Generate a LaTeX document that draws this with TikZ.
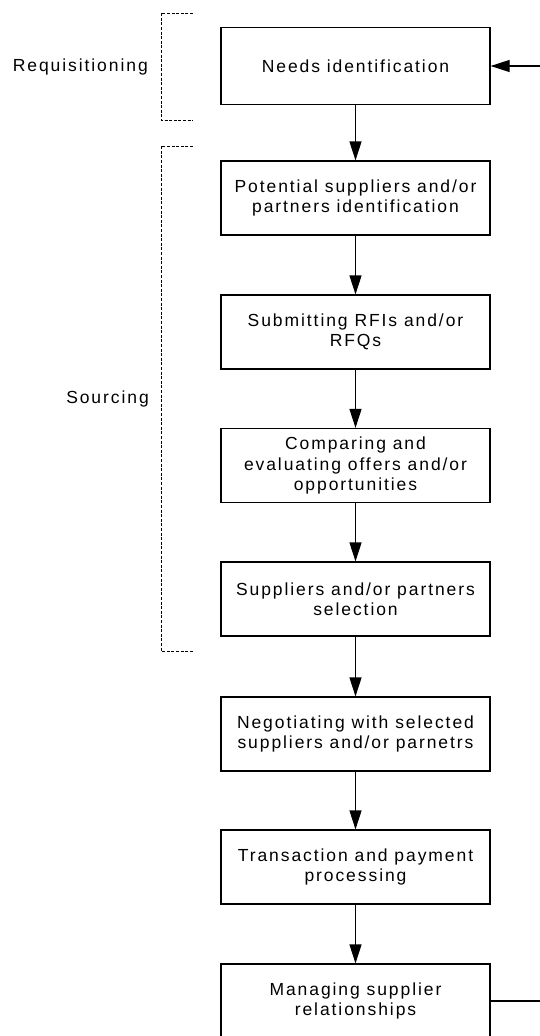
\documentclass[tikz,border=0pt]{standalone}
\usepackage{fontspec}
\setmainfont{Liberation Sans}[LetterSpace=11]
\usetikzlibrary{arrows.meta}
\begin{document}
\begin{tikzpicture}[x=1pt,y=-1pt,
 box/.style={draw, line width=1.2pt, minimum width=269pt, minimum height=74pt, align=center, inner sep=0pt, font=\fontsize{17.5}{20.5}\selectfont},
 lab/.style={font=\fontsize{17.5}{20.5}\selectfont, anchor=east, inner sep=0pt},
 arr/.style={line width=1.2pt, -{Triangle[length=19pt,width=12pt]}},
 brk/.style={line width=0.9pt, dash pattern=on 3pt off 1.6pt}]
\useasboundingbox (0,0) rectangle (540,1036);
\clip (0,0) rectangle (540,1036);
\node[box, minimum height=77pt] (n1) at (355.5,66) {Needs identification};
\node[box] (n2) at (355.5,198) {Potential suppliers and/or\\partners identification};
\node[box] (n3) at (355.5,332) {Submitting RFIs and/or\\RFQs};
\node[box] (n4) at (355.5,465.5) {Comparing and\\evaluating offers and/or\\opportunities};
\node[box] (n5) at (355.5,599) {Suppliers and/or partners\\selection};
\node[box] (n6) at (355.5,734) {Negotiating with selected\\suppliers and/or parnetrs};
\node[box] (n7) at (355.5,867) {Transaction and payment\\processing};
\node[box] (n8) at (355.5,1001) {Managing supplier\\relationships};
\foreach \a/\b in {n1/n2,n2/n3,n3/n4,n4/n5,n5/n6,n6/n7,n7/n8}
  \draw[arr] (\a) -- (\b);
\coordinate (rr) at (546,500);
\draw[arr] (n8.east) -- (n8.east -| rr) -- (n1.east -| rr) -- (n1.east);
\node[lab] (req) at (148,67) {Requisitioning};
\node[lab] (src) at (149,399) {Sourcing};
\draw[brk] (193,13) -- (161,13) -- (161,120) -- (193,120);
\draw[brk] (193,146) -- (161,146) -- (161,651) -- (193,651);
\end{tikzpicture}
\end{document}
